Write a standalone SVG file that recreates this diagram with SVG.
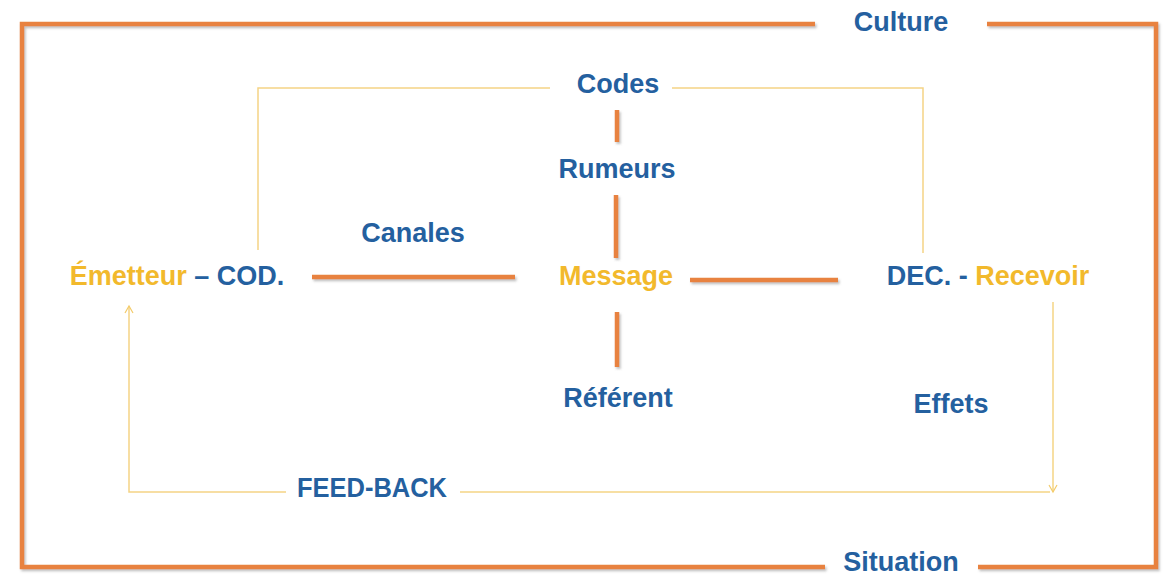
<svg xmlns="http://www.w3.org/2000/svg" width="1176" height="575" viewBox="0 0 1176 575">
  <defs>
    <filter id="sh" filterUnits="userSpaceOnUse" x="0" y="0" width="1176" height="575">
      <feDropShadow dx="1.5" dy="2" stdDeviation="1" flood-color="#777" flood-opacity="0.45"/>
    </filter>
    <marker id="arr" markerWidth="12" markerHeight="12" refX="10" refY="6" orient="auto" markerUnits="userSpaceOnUse">
      <polyline points="3,2 10,6 3,10" fill="none" stroke="#F3CB6A" stroke-width="1.2"/>
    </marker>
    <style>
      .t { font-family: "Liberation Sans", Arial, sans-serif; font-weight: bold; font-size: 27px; text-anchor: middle; }
      .b { fill: #24609F; }
      .y { fill: #F2B92C; }
      .o { fill: none; stroke: #E8823F; stroke-width: 4.5; stroke-linejoin: miter; filter: url(#sh); }
      .s { fill: none; stroke: #F5D485; stroke-width: 1.5; }
    </style>
  </defs>
  <rect width="1176" height="575" fill="#ffffff"/>

  <g id="connectors">
    <path class="o" d="M 815 24 H 22 V 567 H 825"/>
    <path class="o" d="M 987 24 H 1156 V 567 H 978"/>
    <path class="o" d="M 312 277 H 515"/>
    <path class="o" d="M 690 280 H 838"/>
    <path class="o" d="M 617 110 V 142"/>
    <path class="o" d="M 616 195 V 258"/>
    <path class="o" d="M 617 312 V 367"/>
    <path class="s" d="M 258 250 V 88 H 550"/>
    <path class="s" d="M 672 88 H 923 V 253"/>
    <path class="s" d="M 1053 302 V 492" marker-end="url(#arr)"/>
    <path class="s" d="M 1050 492 H 460"/>
    <path class="s" d="M 286 492 H 129 V 306" marker-end="url(#arr)"/>
  </g>

  <g id="culture"><text class="t b" x="901" y="31">Culture</text></g>
  <g id="codes"><text class="t b" x="618" y="93">Codes</text></g>
  <g id="rumeurs"><text class="t b" x="617" y="178">Rumeurs</text></g>
  <g id="canales"><text class="t b" x="413" y="242">Canales</text></g>
  <g id="emetteur"><text class="t" x="177" y="285"><tspan class="y">Émetteur</tspan><tspan class="b"> – COD.</tspan></text></g>
  <g id="message"><text class="t y" x="616" y="285">Message</text></g>
  <g id="recevoir"><text class="t" x="988" y="285"><tspan class="b">DEC. - </tspan><tspan class="y">Recevoir</tspan></text></g>
  <g id="referent"><text class="t b" x="618" y="407">Référent</text></g>
  <g id="effets"><text class="t b" x="951" y="413">Effets</text></g>
  <g id="feedback"><text class="t b" x="372" y="497" textLength="150" lengthAdjust="spacingAndGlyphs">FEED-BACK</text></g>
  <g id="situation"><text class="t b" x="901" y="571">Situation</text></g>
</svg>
